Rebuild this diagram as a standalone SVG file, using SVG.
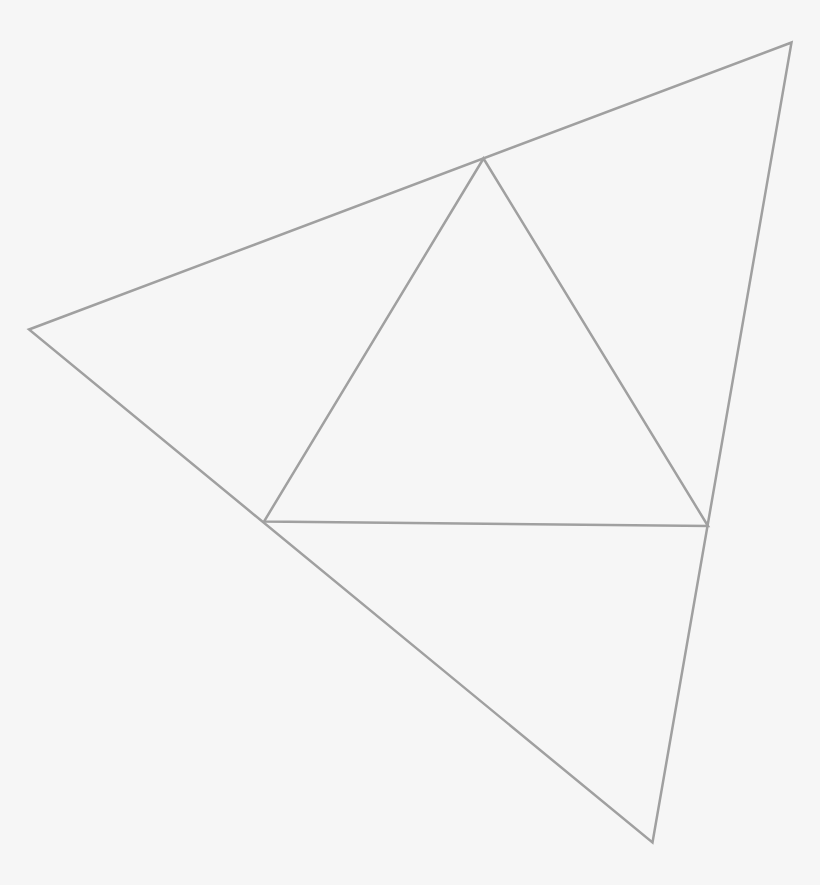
<svg xmlns="http://www.w3.org/2000/svg" width="820" height="885" viewBox="0 0 820 885">
<style>
.l{fill:none;stroke:#a0a0a0;stroke-width:2.5;stroke-linejoin:miter}
</style>
<rect width="820" height="885" fill="#f6f6f6"/>
<g id="outer"><polygon class="l" points="791.5,42.5 29,329.5 652.5,842.5"/></g>
<g id="inner"><polygon class="l" points="483.5,158.5 264,521.5 708,526"/></g>
</svg>
